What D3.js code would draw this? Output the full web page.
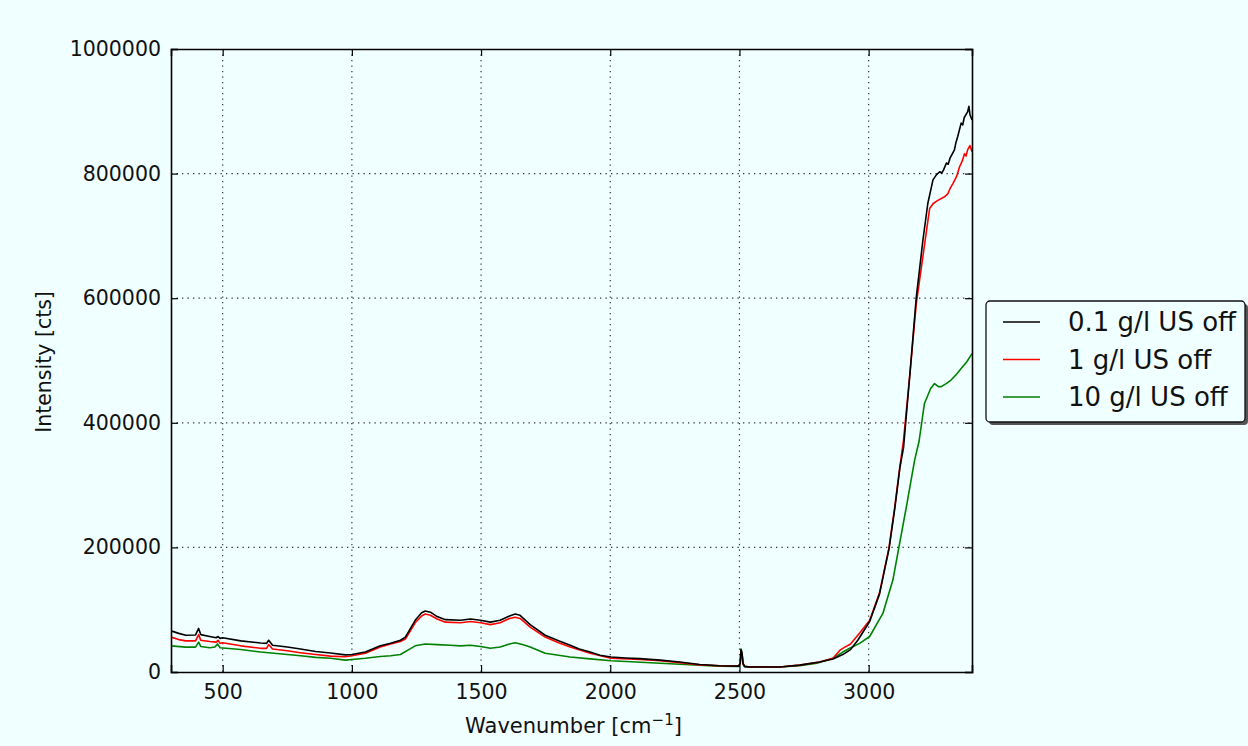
<!DOCTYPE html>
<html><head><meta charset="utf-8">
<script src="https://cdn.jsdelivr.net/npm/d3@7"></script>
<style>
html,body{margin:0;padding:0;background:#f0ffff;}
svg{display:block;}
text{font-family:"DejaVu Sans",sans-serif;fill:#111;}
</style></head>
<body><svg id="c" width="1248" height="746"></svg>
<script>
// Data (wavenumber [cm^-1], intensity [cts])
const seriesNames = ["0.1 g/l US off", "1 g/l US off", "10 g/l US off"];
const xTicks = [500, 1000, 1500, 2000, 2500, 3000];
const yTicks = [0, 200000, 400000, 600000, 800000, 1000000];

const black01 = [[300,66000],[330,62000],[357,59000],[395,59500],[407,70000],[415,60000],[450,57000],[475,55000],[482,57000],[490,54000],[500,55000],[570,50000],[647,46500],[670,46000],[678,51000],[693,43000],[750,40000],[801,37000],[860,33000],[917,30500],[975,27500],[1000,28000],[1052,32000],[1110,42000],[1150,46000],[1188,51000],[1207,56000],[1245,83000],[1270,95000],[1284,98000],[1304,96000],[1330,89000],[1362,84000],[1420,83000],[1459,85000],[1498,83000],[1536,80000],[1574,83000],[1610,90000],[1632,93000],[1651,91000],[1690,76000],[1748,59000],[1800,50000],[1845,43000],[1880,37000],[1922,32000],[1960,27000],[2003,24000],[2060,22500],[2115,21500],[2193,19000],[2269,16000],[2346,12000],[2423,10000],[2497,9500],[2503,14000],[2506,36000],[2510,30000],[2514,14000],[2520,9000],[2540,8000],[2656,8000],[2733,11000],[2810,16000],[2862,21000],[2900,28000],[2930,36000],[2958,51000],[3004,81000],[3042,125000],[3079,198000],[3101,262000],[3121,328000],[3135,360000],[3160,480000],[3184,600000],[3210,693000],[3229,752000],[3249,790000],[3262,798000],[3275,803000],[3283,801000],[3290,806000],[3301,817000],[3308,815000],[3315,825000],[3332,838000],[3338,850000],[3345,860000],[3358,881000],[3364,878000],[3370,890000],[3383,899000],[3388,908000],[3392,895000],[3400,886000]];

const red1 = [[300,56000],[330,52000],[357,50000],[395,50000],[407,60000],[415,51000],[450,49000],[475,48000],[482,51000],[490,46000],[500,47000],[570,42000],[647,38000],[670,38000],[678,44000],[693,37000],[750,34000],[801,31000],[860,28000],[917,25500],[975,24500],[1000,26000],[1052,30000],[1110,40000],[1150,45000],[1188,49000],[1207,53000],[1245,79000],[1270,90000],[1284,93000],[1304,91000],[1330,85000],[1362,80000],[1420,79000],[1459,81000],[1498,79000],[1536,76000],[1574,79000],[1610,86000],[1632,88000],[1651,86000],[1690,72000],[1748,56000],[1800,47000],[1845,40000],[1922,30000],[2003,22000],[2115,20000],[2193,18000],[2269,15000],[2346,11500],[2423,10000],[2497,9500],[2503,14000],[2506,34000],[2510,28000],[2514,13000],[2520,9000],[2540,8000],[2656,8000],[2733,11000],[2810,16000],[2862,22000],[2889,35000],[2908,40000],[2930,45000],[2966,63000],[3004,83000],[3042,127000],[3079,200000],[3101,265000],[3121,330000],[3135,372000],[3160,480000],[3184,590000],[3210,667000],[3236,744000],[3250,752000],[3268,757000],[3290,762000],[3300,765000],[3307,768000],[3315,776000],[3326,784000],[3340,795000],[3352,811000],[3362,820000],[3371,832000],[3377,828000],[3383,838000],[3392,845000],[3400,835000]];

const green10 = [[300,42000],[357,40000],[395,40000],[407,48000],[415,41000],[450,39000],[470,40000],[480,45000],[490,39000],[570,36000],[647,32000],[678,31000],[750,28000],[801,26000],[860,23500],[917,22000],[975,19000],[1000,20000],[1052,22000],[1110,25000],[1150,26000],[1188,28000],[1220,36000],[1245,42000],[1284,45000],[1330,44000],[1380,43000],[1420,42000],[1459,43000],[1498,41000],[1536,38000],[1574,40000],[1610,45000],[1632,47000],[1660,44000],[1690,40000],[1748,30000],[1800,27000],[1845,24000],[1922,21000],[2003,18000],[2100,16000],[2193,14000],[2269,12500],[2346,11000],[2423,9500],[2497,9000],[2503,14000],[2506,37000],[2510,30000],[2514,12000],[2520,8500],[2540,8000],[2656,8000],[2733,10000],[2800,14000],[2862,22000],[2900,32000],[2927,38000],[2965,46000],[3004,57000],[3055,94000],[3094,148000],[3117,200000],[3146,265000],[3178,340000],[3195,370000],[3216,431000],[3240,455000],[3255,463000],[3270,458000],[3281,458000],[3300,463000],[3320,469000],[3340,478000],[3358,487000],[3380,498000],[3397,509000],[3400,511000]];

const seriesData = [black01, red1, green10];
const seriesColors = ["#000000", "#ff0000", "#008000"];

const svg = d3.select("#c");
const L = 171, T = 49, R = 972, B = 672;
const x = d3.scaleLinear().domain([300, 3400]).range([L, R]);
const y = d3.scaleLinear().domain([0, 1000000]).range([B, T]);

// plot background
svg.append("rect").attr("x", L).attr("y", T).attr("width", R - L).attr("height", B - T).attr("fill", "#f0ffff");

// grid
const grid = svg.append("g").attr("stroke", "#333").attr("stroke-width", 1.2).attr("stroke-dasharray", "1.3,4.2");
xTicks.forEach(t => grid.append("line").attr("x1", x(t)).attr("x2", x(t)).attr("y1", T).attr("y2", B));
yTicks.slice(1, -1).forEach(t => grid.append("line").attr("x1", L).attr("x2", R).attr("y1", y(t)).attr("y2", y(t)));

// lines
const line = d3.line().x(d => x(d[0])).y(d => y(d[1]));
svg.append("clipPath").attr("id", "pc").append("rect").attr("x", L).attr("y", T).attr("width", R - L).attr("height", B - T);
const lg = svg.append("g").attr("clip-path", "url(#pc)");
[2, 1, 0].forEach(i => {
  lg.append("path").datum(seriesData[i]).attr("d", line).attr("fill", "none")
    .attr("stroke", seriesColors[i]).attr("stroke-width", 1.6).attr("stroke-linejoin", "round");
});

// axes with inward ticks on all sides
const tl = 7;
const ax = svg.append("g");
ax.append("g").attr("transform", `translate(0,${B})`)
  .call(d3.axisBottom(x).tickValues(xTicks).tickSize(-tl).tickPadding(12).tickFormat(d3.format("d")));
ax.append("g").attr("transform", `translate(0,${T})`)
  .call(d3.axisTop(x).tickValues(xTicks).tickSize(-tl).tickFormat(""));
ax.append("g").attr("transform", `translate(${L},0)`)
  .call(d3.axisLeft(y).tickValues(yTicks).tickSize(-tl).tickPadding(10).tickFormat(d3.format("d")));
ax.append("g").attr("transform", `translate(${R},0)`)
  .call(d3.axisRight(y).tickValues(yTicks).tickSize(-tl).tickFormat(""));
ax.selectAll(".domain").attr("stroke", "#000").attr("stroke-width", 1.6);
ax.selectAll(".tick line").attr("stroke", "#000").attr("stroke-width", 1.2);
ax.selectAll(".tick text").style("font-family", "DejaVu Sans").style("font-size", "20.5px").attr("fill", "#111");

// axis labels
const xl = svg.append("text").attr("x", (L + R) / 2 + 2).attr("y", 733).attr("text-anchor", "middle").style("font-size", "21px");
xl.append("tspan").text("Wavenumber [cm");
xl.append("tspan").attr("dy", -8).style("font-size", "15px").text("\u22121");
xl.append("tspan").attr("dy", 8).text("]");
svg.append("text").attr("transform", "translate(51,362) rotate(-90)").attr("text-anchor", "middle")
  .style("font-size", "20.5px").text("Intensity [cts]");

// legend
const lx = 986, ly = 301, lw = 259, lh = 121;
svg.append("rect").attr("x", lx + 3).attr("y", ly + 3).attr("width", lw).attr("height", lh).attr("rx", 4).attr("fill", "#555");
svg.append("rect").attr("x", lx).attr("y", ly).attr("width", lw).attr("height", lh).attr("rx", 4)
  .attr("fill", "#f0ffff").attr("stroke", "#111").attr("stroke-width", 1.3);
seriesNames.forEach((n, i) => {
  const yy = ly + 21 + i * 37.5;
  svg.append("line").attr("x1", lx + 17).attr("x2", lx + 54).attr("y1", yy).attr("y2", yy)
    .attr("stroke", seriesColors[i]).attr("stroke-width", 1.6);
  svg.append("text").attr("x", 1068).attr("y", yy + 9).style("font-size", "26px").text(n);
});
</script></body></html>
